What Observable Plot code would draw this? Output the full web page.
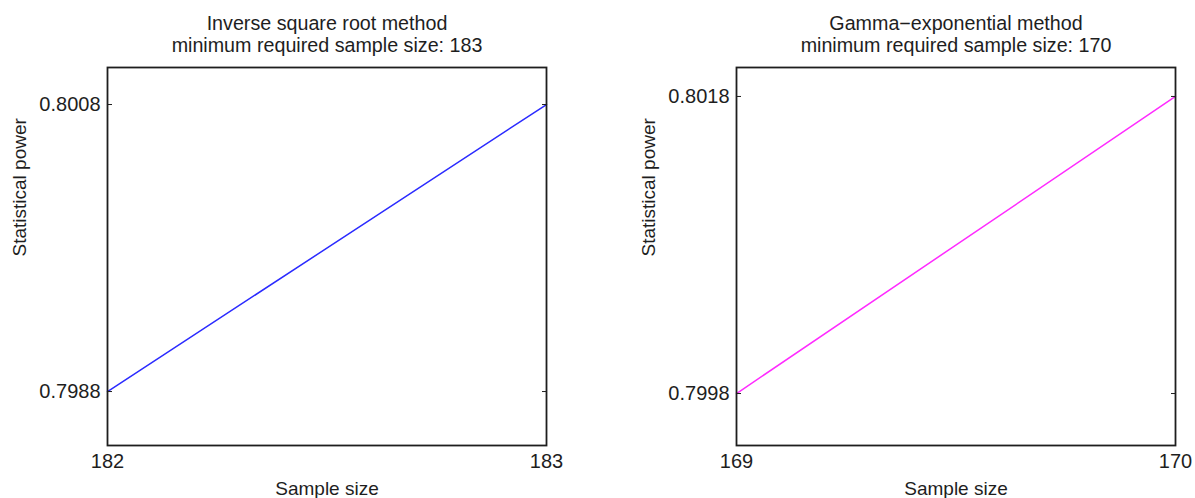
<!DOCTYPE html>
<html>
<head>
<meta charset="utf-8">
<script src="https://cdn.jsdelivr.net/npm/d3@7"></script>
<script src="https://cdn.jsdelivr.net/npm/@observablehq/plot@0.6"></script>
<style>
  html, body { margin: 0; padding: 0; background: #fff; }
  #wrap { display: flex; width: 1195px; height: 498px; }
  svg { display: block; }
</style>
</head>
<body>
<div id="wrap"></div>
<script>
// Left panel: Inverse square root method
const leftTitle = ["Inverse square root method", "minimum required sample size: 183"];
const leftSampleSize = [182, 183];
const leftPower = [0.7988, 0.8008];
const leftYDomain = [0.798424, 0.801058];

// Right panel: Gamma-exponential method
const rightTitle = ["Gamma\u2212exponential method", "minimum required sample size: 170"];
const rightSampleSize = [169, 170];
const rightPower = [0.7998, 0.8018];
const rightYDomain = [0.79945, 0.801995];

const xLabel = "Sample size";
const yLabel = "Statistical power";

const FONT = "'Liberation Sans', Arial, Helvetica, sans-serif";
const INK = "#1e1e1e";

function panel({title, xs, ys, yDomain, color, width, marginLeft, marginRight}) {
  const data = xs.map((x, i) => ({x, y: ys[i]}));
  return Plot.plot({
    width,
    height: 498,
    marginLeft,
    marginRight,
    marginTop: 67,
    marginBottom: 53,
    style: {fontFamily: FONT, fontSize: "19px", color: INK, background: "#fff"},
    x: {domain: [xs[0], xs[xs.length - 1]]},
    y: {domain: yDomain},
    marks: [
      Plot.line(data, {x: "x", y: "y", stroke: color, strokeWidth: 1.5}),
      Plot.axisX({ticks: xs, tickFormat: d => String(d), tickSize: 0, tickPadding: 8, label: null, fontSize: 20}),
      Plot.axisY({ticks: ys, tickFormat: d => d.toFixed(4), tickSize: -5, tickPadding: 12, label: null, fontSize: 20}),
      Plot.axisY({ticks: ys, anchor: "right", tickFormat: () => "", tickSize: -5, label: null}),
      Plot.frame({stroke: INK, strokeWidth: 1.8}),
      Plot.text([title[0]], {frameAnchor: "top", dy: -44, text: d => d, fontSize: 19.7, fill: INK, lineAnchor: "middle"}),
      Plot.text([title[1]], {frameAnchor: "top", dy: -22, text: d => d, fontSize: 19.7, fill: INK, lineAnchor: "middle"}),
      Plot.text([xLabel], {frameAnchor: "bottom", dy: 43, text: d => d, fontSize: 19, fill: INK, lineAnchor: "middle"}),
      Plot.text([yLabel], {frameAnchor: "left", dx: -88, rotate: -90, text: d => d, fontSize: 19, fill: INK, lineAnchor: "middle"})
    ]
  });
}

const wrap = document.getElementById("wrap");
wrap.appendChild(panel({
  title: leftTitle, xs: leftSampleSize, ys: leftPower, yDomain: leftYDomain,
  color: "#2b2bff", width: 597, marginLeft: 107, marginRight: 51
}));
wrap.appendChild(panel({
  title: rightTitle, xs: rightSampleSize, ys: rightPower, yDomain: rightYDomain,
  color: "#ff2bff", width: 598, marginLeft: 139, marginRight: 20
}));
</script>
</body>
</html>
